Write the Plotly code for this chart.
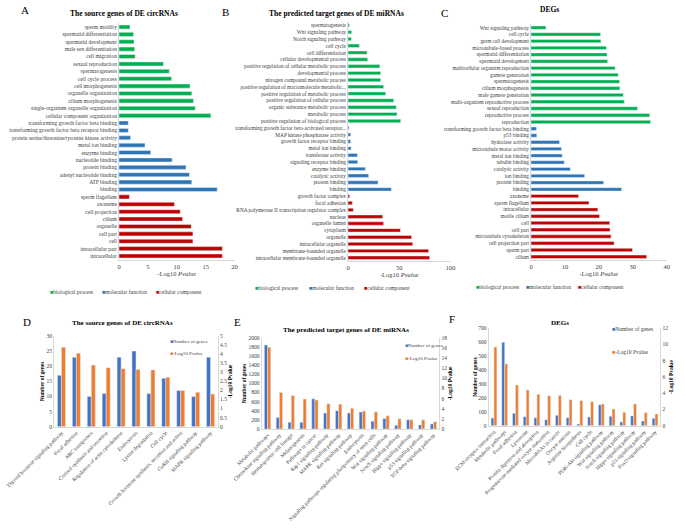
import plotly.graph_objects as go

W, H = 685, 530
SERIF = "Liberation Serif"
GREEN, BLUE, RED = "#00B050", "#2E75B6", "#C00000"
NBLUE, NORANGE = "#4472C4", "#ED7D31"
LINE = "#D9D9D9"
TXT = "#404040"

# ---- A: source genes of DE circRNAs (GO, -log10 p) ----
a_bp = ["sperm motility", "spermatid differentiation", "spermatid development",
        "male sex differentiation", "cell migration", "sexual reproduction",
        "spermatogenesis", "cell cycle process", "cell morphogenesis",
        "organelle organization", "cilium morphogenesis",
        "single-organism organelle organization", "cellular component organization"]
a_bp_val = [1.9, 2.5, 2.6, 2.7, 2.8, 7.7, 8.7, 9.1, 12.3, 12.6, 12.9, 13.2, 15.9]
a_mf = ["transforming growth factor beta binding",
        "transforming growth factor beta receptor binding",
        "protein serine/threonine/tyrosine kinase activity", "metal ion binding",
        "enzyme binding", "nucleotide binding", "protein binding",
        "adenyl nucleotide binding", "ATP binding", "binding"]
a_mf_val = [1.6, 1.6, 2.0, 4.5, 5.5, 9.2, 11.6, 12.2, 12.6, 17.0]
a_cc = ["sperm flagellum", "axoneme", "cell projection", "cilium", "organelle",
        "cell part", "cell", "intracellular part", "intracellular"]
a_cc_val = [1.8, 9.6, 10.6, 11.0, 12.5, 12.8, 12.8, 17.9, 17.9]

# ---- B: predicted target genes of DE miRNAs ----
b_bp = ["spermatogenesis", "Wnt signaling pathway", "Notch signaling pathway",
        "cell cycle", "cell differentiation", "cellular developmental process",
        "positive regulation of cellular metabolic process", "developmental process",
        "nitrogen compound metabolic process",
        "positive regulation of macromolecule metabolic...",
        "positive regulation of metabolic process",
        "positive regulation of cellular process",
        "organic substance metabolic process", "metabolic process",
        "positive regulation of biological process"]
b_bp_val = [1.3, 3.6, 3.2, 11.0, 18.5, 19.2, 31.0, 31.8, 31.8, 34.7, 36.7, 44.5, 47.0, 47.7, 51.3]
b_mf = ["transforming growth factor beta-activated receptor...",
        "MAP kinase phosphatase activity", "growth factor receptor binding",
        "metal ion binding", "transferase activity", "signaling receptor binding",
        "enzyme binding", "catalytic activity", "protein binding", "binding"]
b_mf_val = [1.0, 2.6, 2.6, 3.0, 9.1, 9.4, 16.9, 20.1, 29.2, 42.2]
b_cc = ["growth factor complex", "focal adhesion",
        "RNA polymerase II transcription regulator complex", "nucleus",
        "organelle lumen", "cytoplasm", "organelle", "intracellular organelle",
        "membrane-bounded organelle", "intracellular membrane-bounded organelle"]
b_cc_val = [1.6, 4.2, 5.2, 33.8, 34.7, 51.0, 62.0, 63.0, 78.5, 79.5]

# ---- C: DEGs ----
c_bp = ["Wnt signaling pathway", "cell cycle", "germ cell development",
        "microtubule-based process", "spermatid differentiation",
        "spermatid development", "multicellular organism reproduction",
        "gamete generation", "spermatogenesis", "cilium morphogenesis",
        "male gamete generation", "multi-organism reproductive process",
        "sexual reproduction", "reproductive process", "reproduction"]
c_bp_val = [4.4, 20.5, 20.6, 22.2, 22.4, 22.6, 24.8, 25.7, 26.1, 26.2, 27.2, 27.5, 31.4, 35.0, 35.2]
c_mf = ["transforming growth factor beta binding", "p53 binding", "hydrolase activity",
        "microtubule motor activity", "metal ion binding", "tubulin binding",
        "catalytic activity", "ion binding", "protein binding", "binding"]
c_mf_val = [1.6, 1.7, 8.4, 9.0, 9.2, 9.8, 11.6, 15.8, 21.4, 26.7]
c_cc = ["axoneme", "sperm flagellum", "intracellular", "motile cilium", "cell",
        "cell part", "microtubule cytoskeleton", "cell projection part",
        "sperm part", "cilium"]
c_cc_val = [14.0, 17.1, 19.7, 20.2, 23.2, 23.3, 23.6, 24.5, 29.9, 34.1]

# ---- D: KEGG, source genes of DE circRNAs ----
d_cats = ["Thyroid hormone signaling pathway", "Focal adhesion", "ABC transporters",
          "Cortisol synthesis and secretion", "Regulation of actin cytoskeleton",
          "Endocytosis", "Lysine degradation", "Cell cycle",
          "Growth hormone synthesis, secretion and action",
          "GnRH signaling pathway", "MAPK signaling pathway"]
d_genes = [17, 23, 10, 11, 23, 25, 11, 16, 12, 10, 23]
d_logp = [4.38, 4.05, 3.4, 3.25, 3.2, 3.15, 3.13, 2.72, 2.0, 1.9, 1.8]

# ---- E: KEGG, predicted target genes of DE miRNAs ----
e_cats = ["Metabolic pathways", "Chemokine signaling pathway",
          "Hematopoietic cell lineage", "Melanogenesis", "Pathways in cancer",
          "Rap1 signaling pathway", "MAPK signaling pathway", "Ras signaling pathway",
          "Endocytosis", "Signaling pathways regulating pluripotency of stem cells",
          "Wnt signaling pathway", "Notch signaling pathway", "Hippo signaling pathway",
          "p53 signaling pathway", "TGF-beta signaling pathway"]
e_genes = [1840, 250, 150, 150, 660, 350, 400, 350, 370, 170, 230, 80, 200, 90, 110]
e_logp = [16.1, 7.2, 6.6, 5.9, 5.7, 5.0, 4.9, 4.1, 3.55, 3.4, 2.6, 2.0, 1.8, 1.8, 1.45]

# ---- F: KEGG, DEGs ----
f_cats = ["ECM-receptor interaction", "Metabolic pathways", "Focal adhesion",
          "Lysosome", "Protein digestion and absorption",
          "Progesterone-mediated oocyte maturation", "MicroRNAs in cancer",
          "Oocyte meiosis", "Arginine biosynthesis", "Cell cycle",
          "PI3K-Akt signaling pathway", "Wnt signaling pathway",
          "Notch signaling pathway", "Hippo signaling pathway",
          "p53 signaling pathway", "FoxO signaling pathway"]
f_genes = [55, 600, 89, 65, 57, 43, 75, 57, 12, 62, 150, 68, 27, 70, 34, 53]
f_logp = [9.7, 7.6, 5.0, 4.4, 3.86, 3.7, 3.72, 3.2, 3.1, 2.96, 2.67, 2.06, 1.65, 2.67, 1.6, 1.44]


def xdom(x0, x1):
    return [x0 / W, x1 / W]


def ydom(top, bottom):
    return [1 - bottom / H, 1 - top / H]


fig = go.Figure()
layout = dict(width=W, height=H, autosize=False, margin=dict(l=0, r=0, t=0, b=0),
              paper_bgcolor="white", plot_bgcolor="white", barmode="overlay",
              showlegend=False, font=dict(family=SERIF, color=TXT))
ann = []

# GO panels (horizontal bars)
go_panels = [
    ("", (a_bp, a_bp_val, a_mf, a_mf_val, a_cc, a_cc_val), (119, 234.5), (23.3, 259.7), 20, 5, 0.55, 5.5),
    ("2", (b_bp, b_bp_val, b_mf, b_mf_val, b_cc, b_cc_val), (348, 450.7), (21.9, 261.1), 100, 50, 0.5, 5.3),
    ("3", (c_bp, c_bp_val, c_mf, c_mf_val, c_cc, c_cc_val), (531, 666.7), (24.3, 260.1), 40, 10, 0.5, 5.3),
]
for sfx, (bp, bpv, mf, mfv, cc, ccv), xd, yd, xmax, dt, bw, fs in go_panels:
    cats = bp + mf + cc
    for labels, vals, col in ((bp, bpv, GREEN), (mf, mfv, BLUE), (cc, ccv, RED)):
        fig.add_trace(go.Bar(y=labels, x=vals, orientation="h", marker_color=col,
                             width=bw, xaxis="x" + sfx, yaxis="y" + sfx))
    layout["xaxis" + sfx] = dict(domain=xdom(*xd), anchor="y" + sfx, range=[0, xmax],
                                 dtick=dt, showgrid=False, zeroline=False, showline=True,
                                 linecolor=LINE, ticks="", automargin=False,
                                 tickfont=dict(size=6.5, color=TXT),
                                 title=dict(text="-Log10 <i>Pvalue</i>", font=dict(size=6.5, color=TXT),
                                            standoff=2))
    layout["yaxis" + sfx] = dict(domain=ydom(*yd), anchor="x" + sfx, type="category",
                                 categoryorder="array", categoryarray=cats, automargin=False,
                                 range=[len(cats) - 0.5, -0.5], showgrid=False,
                                 showline=True, linecolor=LINE, ticks="",
                                 tickfont=dict(size=fs, color=TXT))

# KEGG panels (grouped bars, two y axes)
kegg = [
    ("4", "7", d_cats, d_genes, d_logp, (54, 218), (336, 426.7), 30, 5, 5, 0.5, 1, 1),
    ("5", "8", e_cats, e_genes, e_logp, (261.6, 439.4), (337.7, 429), 2000, 200, 18, 2, 1, 0),
    ("6", "9", f_cats, f_genes, f_logp, (488.6, 660.4), (328.3, 425.7), 700, 100, 12, 2, 0, 1),
]
for sx, sy2, cats, genes, logp, xd, yd, ymax, ydt, y2max, y2dt, so1, so2 in kegg:
    fig.add_trace(go.Bar(x=cats, y=genes, marker_color=NBLUE, offset=-0.27, width=0.27,
                         xaxis="x" + sx, yaxis="y" + sx))
    fig.add_trace(go.Bar(x=cats, y=logp, marker_color=NORANGE, offset=0, width=0.27,
                         xaxis="x" + sx, yaxis="y" + sy2))
    layout["xaxis" + sx] = dict(domain=xdom(*xd), anchor="y" + sx, type="category",
                                range=[-0.5, len(cats) - 0.5], tickangle=-45, ticks="",
                                showline=True, linecolor=LINE, showgrid=False, automargin=False,
                                tickfont=dict(size=5.3, color=TXT))
    layout["yaxis" + sx] = dict(domain=ydom(*yd), anchor="x" + sx, range=[0, ymax], dtick=ydt,
                                showgrid=False, zeroline=False, showline=True, linecolor=LINE,
                                ticks="", automargin=False, tickfont=dict(size=5.5, color=TXT),
                                title=dict(text="<b>Number of genes</b>",
                                           font=dict(size=5.5, color="black"), standoff=so1))
    layout["yaxis" + sy2] = dict(overlaying="y" + sx, anchor="x" + sx, side="right",
                                 range=[0, y2max], dtick=y2dt, showgrid=False, zeroline=False,
                                 showline=True, linecolor=LINE, ticks="", automargin=False,
                                 tickfont=dict(size=5.5, color=TXT),
                                 title=dict(text="<b>-Log10 Pvalue</b>",
                                            font=dict(size=5.5, color="black"), standoff=so2))


def note(x, y, text, size, color="black", xanchor="center"):
    ann.append(dict(x=x / W, y=1 - y / H, xref="paper", yref="paper", showarrow=False,
                    xanchor=xanchor, yanchor="middle", text=text,
                    font=dict(family=SERIF, size=size, color=color)))


# panel letters and titles
for letter, x, y in (("A", 25, 10), ("B", 225, 12), ("C", 444, 13),
                     ("D", 27, 322), ("E", 237, 322), ("F", 452, 319)):
    note(x, y, letter, 11)
note(124, 14, "<b>The source genes of DE circRNAs</b>", 7.5)
note(336, 14, "<b>The predicted target genes of DE miRNAs</b>", 7.5)
note(549, 10, "<b>DEGs</b>", 7.5)
note(122, 323, "<b>The source genes of DE circRNAs</b>", 7)
note(346, 330, "<b>The predicted target genes of DE miRNAs</b>", 7)
note(560, 323, "<b>DEGs</b>", 7)


def key(x, y, color, text, size=5.5):
    note(x, y, f'<span style="color:{color}">■</span>{text}', size, TXT, "left")


# GO legends
for (x1, x2, x3, y) in ((48, 100, 154, 292), (253, 307, 362, 288), (474, 524, 576, 287)):
    key(x1, y, GREEN, "biological process")
    key(x2, y, BLUE, "molecular function")
    key(x3, y, RED, "cellular component")

# KEGG legends
for (x, y1, y2, fs) in ((168, 341, 353, 5), (403, 345, 358, 5), (610, 329, 352, 5.5)):
    key(x, y1, NBLUE, "Number of genes", fs)
    key(x, y2, NORANGE, "-Log10 Pvalue", fs)

layout["annotations"] = ann
fig.update_layout(**layout)
fig.write_html("out.html", config={"displayModeBar": False},
               post_script="document.body.style.margin='0';document.body.style.overflow='hidden';")
